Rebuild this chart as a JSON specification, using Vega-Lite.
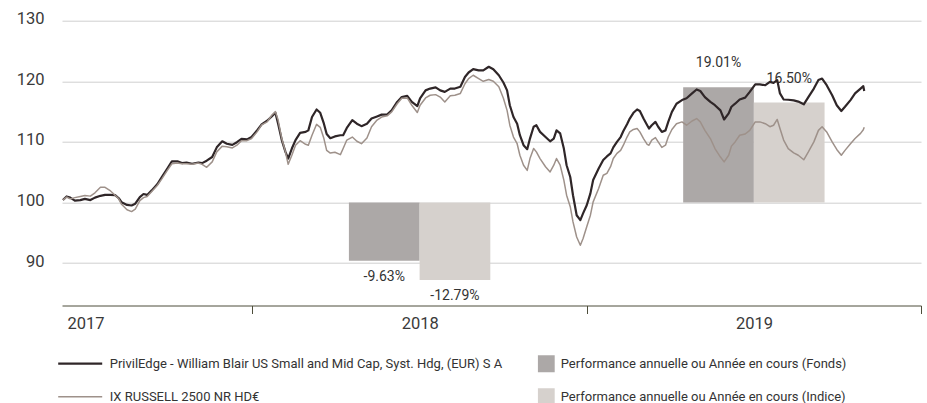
{
  "$schema": "https://vega.github.io/schema/vega-lite/v6.json",
  "width": 859,
  "height": 284.8,
  "autosize": {"type": "none"},
  "padding": {"left": 62, "top": 20.7, "right": 6, "bottom": 97.5},
  "background": "white",
  "config": {
    "view": {"stroke": null},
    "locale": {"number": {"decimal": ".", "thousands": ",", "grouping": [3], "currency": ["", ""], "minus": "-"}},
    "font": "Roboto, sans-serif",
    "axis": {"labelFont": "Roboto, sans-serif", "labelColor": "#3a3a3a", "title": null},
    "legend": {"labelFont": "Roboto, sans-serif", "labelColor": "#333333", "labelFontSize": 13, "labelLimit": 0, "title": null, "orient": "none", "padding": 0}
  },
  "datasets": {
    "perf": [
      {"year": "2018", "kind": "Fonds", "level": 90.37, "perf": -0.0963},
      {"year": "2018", "kind": "Indice", "level": 87.21, "perf": -0.1279},
      {"year": "2019", "kind": "Fonds", "level": 119.01, "perf": 0.1901},
      {"year": "2019", "kind": "Indice", "level": 116.5, "perf": 0.165}
    ],
    "nav": [
      {"date": "2017-06-08", "fund": 100.4, "index": 100.4},
      {"date": "2017-06-12", "fund": 101.0, "index": 100.9},
      {"date": "2017-06-16", "fund": 100.8, "index": 100.6},
      {"date": "2017-06-21", "fund": 100.3, "index": 100.8},
      {"date": "2017-06-27", "fund": 100.4, "index": 101.0},
      {"date": "2017-07-02", "fund": 100.6, "index": 101.15},
      {"date": "2017-07-08", "fund": 100.4, "index": 101.05},
      {"date": "2017-07-13", "fund": 100.8, "index": 101.6},
      {"date": "2017-07-19", "fund": 101.1, "index": 102.5},
      {"date": "2017-07-24", "fund": 101.25, "index": 102.5},
      {"date": "2017-07-30", "fund": 101.25, "index": 101.9},
      {"date": "2017-08-04", "fund": 101.2, "index": 101.2},
      {"date": "2017-08-08", "fund": 100.7, "index": 100.6},
      {"date": "2017-08-11", "fund": 100.05, "index": 99.7},
      {"date": "2017-08-17", "fund": 99.6, "index": 98.8},
      {"date": "2017-08-22", "fund": 99.5, "index": 98.5},
      {"date": "2017-08-26", "fund": 99.8, "index": 98.9},
      {"date": "2017-08-31", "fund": 100.9, "index": 100.3},
      {"date": "2017-09-04", "fund": 101.4, "index": 100.8},
      {"date": "2017-09-08", "fund": 101.25, "index": 101.0},
      {"date": "2017-09-13", "fund": 102.0, "index": 101.8},
      {"date": "2017-09-19", "fund": 103.0, "index": 102.8},
      {"date": "2017-09-24", "fund": 104.2, "index": 103.9},
      {"date": "2017-09-30", "fund": 105.6, "index": 105.3},
      {"date": "2017-10-05", "fund": 106.8, "index": 106.4},
      {"date": "2017-10-11", "fund": 106.8, "index": 106.5},
      {"date": "2017-10-16", "fund": 106.5, "index": 106.4},
      {"date": "2017-10-21", "fund": 106.6, "index": 106.4},
      {"date": "2017-10-27", "fund": 106.4, "index": 106.3},
      {"date": "2017-11-03", "fund": 106.6, "index": 106.5},
      {"date": "2017-11-07", "fund": 106.5, "index": 106.3},
      {"date": "2017-11-12", "fund": 106.9, "index": 105.8},
      {"date": "2017-11-18", "fund": 107.5, "index": 106.7},
      {"date": "2017-11-23", "fund": 109.1, "index": 108.35},
      {"date": "2017-11-29", "fund": 110.1, "index": 109.3},
      {"date": "2017-12-04", "fund": 109.7, "index": 109.2},
      {"date": "2017-12-10", "fund": 109.5, "index": 109.0},
      {"date": "2017-12-15", "fund": 109.95, "index": 109.45},
      {"date": "2017-12-20", "fund": 110.5, "index": 110.2},
      {"date": "2017-12-26", "fund": 110.4, "index": 110.2},
      {"date": "2017-12-31", "fund": 110.8, "index": 110.55},
      {"date": "2018-01-06", "fund": 111.9, "index": 111.65},
      {"date": "2018-01-11", "fund": 112.9, "index": 112.8},
      {"date": "2018-01-17", "fund": 113.5, "index": 113.3},
      {"date": "2018-01-22", "fund": 114.2, "index": 114.4},
      {"date": "2018-01-26", "fund": 114.8, "index": 115.0},
      {"date": "2018-01-29", "fund": 113.0, "index": 113.6},
      {"date": "2018-02-02", "fund": 110.3, "index": 110.55},
      {"date": "2018-02-06", "fund": 108.35, "index": 108.35},
      {"date": "2018-02-09", "fund": 107.25, "index": 106.3},
      {"date": "2018-02-13", "fund": 108.9, "index": 107.8},
      {"date": "2018-02-17", "fund": 110.3, "index": 109.45},
      {"date": "2018-02-22", "fund": 111.5, "index": 110.2},
      {"date": "2018-02-28", "fund": 111.65, "index": 109.6},
      {"date": "2018-03-03", "fund": 111.9, "index": 109.45},
      {"date": "2018-03-07", "fund": 114.1, "index": 111.1},
      {"date": "2018-03-12", "fund": 115.35, "index": 112.9},
      {"date": "2018-03-16", "fund": 114.8, "index": 112.4},
      {"date": "2018-03-20", "fund": 113.0, "index": 110.55},
      {"date": "2018-03-23", "fund": 111.3, "index": 108.6},
      {"date": "2018-03-27", "fund": 110.6, "index": 108.15},
      {"date": "2018-04-01", "fund": 110.9, "index": 108.3},
      {"date": "2018-04-07", "fund": 111.1, "index": 107.9},
      {"date": "2018-04-10", "fund": 111.1, "index": 108.9},
      {"date": "2018-04-14", "fund": 112.3, "index": 110.3},
      {"date": "2018-04-20", "fund": 113.6, "index": 110.8},
      {"date": "2018-04-25", "fund": 113.0, "index": 110.1},
      {"date": "2018-04-30", "fund": 112.6, "index": 109.7},
      {"date": "2018-05-06", "fund": 113.0, "index": 110.65},
      {"date": "2018-05-11", "fund": 113.85, "index": 112.5},
      {"date": "2018-05-17", "fund": 114.2, "index": 113.6},
      {"date": "2018-05-22", "fund": 114.5, "index": 114.1},
      {"date": "2018-05-28", "fund": 114.5, "index": 114.3},
      {"date": "2018-06-02", "fund": 115.2, "index": 114.95},
      {"date": "2018-06-08", "fund": 116.6, "index": 116.3},
      {"date": "2018-06-13", "fund": 117.4, "index": 117.2},
      {"date": "2018-06-19", "fund": 117.6, "index": 117.25},
      {"date": "2018-06-24", "fund": 116.6, "index": 116.05},
      {"date": "2018-06-30", "fund": 115.9, "index": 114.85},
      {"date": "2018-07-03", "fund": 117.2, "index": 116.05},
      {"date": "2018-07-09", "fund": 118.5, "index": 117.25},
      {"date": "2018-07-14", "fund": 118.8, "index": 117.7},
      {"date": "2018-07-20", "fund": 119.0, "index": 117.8},
      {"date": "2018-07-25", "fund": 118.5, "index": 117.4},
      {"date": "2018-07-30", "fund": 118.25, "index": 116.6},
      {"date": "2018-08-05", "fund": 118.8, "index": 117.6},
      {"date": "2018-08-10", "fund": 118.8, "index": 117.7},
      {"date": "2018-08-16", "fund": 119.1, "index": 118.0},
      {"date": "2018-08-21", "fund": 120.7, "index": 119.6},
      {"date": "2018-08-25", "fund": 121.45, "index": 120.45},
      {"date": "2018-08-30", "fund": 122.0, "index": 121.0},
      {"date": "2018-09-05", "fund": 121.8, "index": 120.45},
      {"date": "2018-09-10", "fund": 121.8, "index": 120.0},
      {"date": "2018-09-16", "fund": 122.4, "index": 120.3},
      {"date": "2018-09-21", "fund": 122.0, "index": 120.0},
      {"date": "2018-09-27", "fund": 121.0, "index": 119.1},
      {"date": "2018-10-02", "fund": 119.8, "index": 117.2},
      {"date": "2018-10-06", "fund": 118.5, "index": 115.2},
      {"date": "2018-10-09", "fund": 116.05, "index": 112.75},
      {"date": "2018-10-13", "fund": 114.1, "index": 110.8},
      {"date": "2018-10-17", "fund": 113.0, "index": 109.7},
      {"date": "2018-10-20", "fund": 111.1, "index": 107.8},
      {"date": "2018-10-24", "fund": 109.45, "index": 106.15},
      {"date": "2018-10-28", "fund": 108.8, "index": 105.3},
      {"date": "2018-10-31", "fund": 110.55, "index": 107.25},
      {"date": "2018-11-04", "fund": 112.5, "index": 108.9},
      {"date": "2018-11-07", "fund": 112.75, "index": 108.35},
      {"date": "2018-11-11", "fund": 111.65, "index": 107.25},
      {"date": "2018-11-17", "fund": 110.8, "index": 105.9},
      {"date": "2018-11-22", "fund": 110.1, "index": 105.05},
      {"date": "2018-11-26", "fund": 110.55, "index": 106.15},
      {"date": "2018-11-29", "fund": 111.9, "index": 107.25},
      {"date": "2018-12-03", "fund": 111.4, "index": 106.15},
      {"date": "2018-12-07", "fund": 108.9, "index": 103.7},
      {"date": "2018-12-10", "fund": 106.15, "index": 101.2},
      {"date": "2018-12-14", "fund": 104.2, "index": 99.3},
      {"date": "2018-12-17", "fund": 101.2, "index": 96.8},
      {"date": "2018-12-21", "fund": 97.9, "index": 94.3},
      {"date": "2018-12-25", "fund": 97.1, "index": 92.95},
      {"date": "2018-12-28", "fund": 98.2, "index": 94.05},
      {"date": "2019-01-01", "fund": 99.55, "index": 96.0},
      {"date": "2019-01-05", "fund": 101.5, "index": 97.9},
      {"date": "2019-01-08", "fund": 103.7, "index": 100.1},
      {"date": "2019-01-14", "fund": 105.6, "index": 102.3},
      {"date": "2019-01-19", "fund": 107.0, "index": 104.5},
      {"date": "2019-01-23", "fund": 107.6, "index": 104.8},
      {"date": "2019-01-27", "fund": 108.1, "index": 105.9},
      {"date": "2019-01-30", "fund": 109.1, "index": 107.25},
      {"date": "2019-02-03", "fund": 110.0, "index": 108.1},
      {"date": "2019-02-07", "fund": 110.8, "index": 108.6},
      {"date": "2019-02-10", "fund": 111.8, "index": 109.45},
      {"date": "2019-02-14", "fund": 112.9, "index": 110.8},
      {"date": "2019-02-17", "fund": 113.85, "index": 111.65},
      {"date": "2019-02-21", "fund": 114.8, "index": 112.05},
      {"date": "2019-02-25", "fund": 115.35, "index": 112.2},
      {"date": "2019-02-28", "fund": 115.1, "index": 111.65},
      {"date": "2019-03-04", "fund": 113.85, "index": 110.55},
      {"date": "2019-03-08", "fund": 112.75, "index": 109.6},
      {"date": "2019-03-10", "fund": 112.2, "index": 109.45},
      {"date": "2019-03-13", "fund": 112.75, "index": 110.3},
      {"date": "2019-03-17", "fund": 113.3, "index": 110.7},
      {"date": "2019-03-20", "fund": 112.5, "index": 110.0},
      {"date": "2019-03-24", "fund": 111.65, "index": 109.1},
      {"date": "2019-03-28", "fund": 111.9, "index": 109.45},
      {"date": "2019-03-31", "fund": 113.3, "index": 110.8},
      {"date": "2019-04-04", "fund": 114.95, "index": 112.05},
      {"date": "2019-04-09", "fund": 116.3, "index": 113.0},
      {"date": "2019-04-15", "fund": 116.9, "index": 113.3},
      {"date": "2019-04-20", "fund": 117.2, "index": 112.75},
      {"date": "2019-04-26", "fund": 118.0, "index": 113.45},
      {"date": "2019-05-01", "fund": 118.65, "index": 113.85},
      {"date": "2019-05-05", "fund": 118.4, "index": 113.3},
      {"date": "2019-05-10", "fund": 117.4, "index": 111.9},
      {"date": "2019-05-16", "fund": 116.6, "index": 110.55},
      {"date": "2019-05-21", "fund": 116.05, "index": 108.9},
      {"date": "2019-05-27", "fund": 115.2, "index": 107.5},
      {"date": "2019-05-31", "fund": 113.7, "index": 106.7},
      {"date": "2019-06-05", "fund": 114.7, "index": 107.8},
      {"date": "2019-06-08", "fund": 115.8, "index": 109.3},
      {"date": "2019-06-12", "fund": 116.3, "index": 110.0},
      {"date": "2019-06-17", "fund": 117.0, "index": 111.1},
      {"date": "2019-06-23", "fund": 117.3, "index": 111.3},
      {"date": "2019-06-28", "fund": 118.25, "index": 111.9},
      {"date": "2019-07-04", "fund": 119.5, "index": 113.3},
      {"date": "2019-07-09", "fund": 119.5, "index": 113.3},
      {"date": "2019-07-15", "fund": 119.35, "index": 113.0},
      {"date": "2019-07-20", "fund": 119.9, "index": 112.5},
      {"date": "2019-07-24", "fund": 119.75, "index": 112.75},
      {"date": "2019-07-28", "fund": 120.2, "index": 113.7},
      {"date": "2019-07-31", "fund": 118.0, "index": 112.2},
      {"date": "2019-08-04", "fund": 117.0, "index": 110.3},
      {"date": "2019-08-09", "fund": 116.95, "index": 108.9},
      {"date": "2019-08-15", "fund": 116.85, "index": 108.2},
      {"date": "2019-08-20", "fund": 116.65, "index": 107.8},
      {"date": "2019-08-26", "fund": 116.2, "index": 107.05},
      {"date": "2019-08-31", "fund": 117.4, "index": 108.35},
      {"date": "2019-09-06", "fund": 118.8, "index": 110.0},
      {"date": "2019-09-11", "fund": 120.2, "index": 111.9},
      {"date": "2019-09-15", "fund": 120.45, "index": 112.5},
      {"date": "2019-09-20", "fund": 119.35, "index": 111.65},
      {"date": "2019-09-26", "fund": 117.7, "index": 110.0},
      {"date": "2019-10-01", "fund": 116.05, "index": 108.75},
      {"date": "2019-10-06", "fund": 115.1, "index": 107.8},
      {"date": "2019-10-10", "fund": 115.8, "index": 108.6},
      {"date": "2019-10-16", "fund": 116.9, "index": 109.7},
      {"date": "2019-10-21", "fund": 118.0, "index": 110.55},
      {"date": "2019-10-27", "fund": 118.8, "index": 111.4},
      {"date": "2019-10-30", "fund": 119.2, "index": 112.0},
      {"date": "2019-10-31", "fund": 118.4, "index": 112.4}
    ]
  },
  "layer": [
    {
      "data": {"name": "perf"},
      "transform": [{"filter": "datum.kind == 'Fonds'"}],
      "mark": {"type": "bar", "width": 70.7, "xOffset": -35.35},
      "encoding": {
        "x": {
          "field": "year", "type": "temporal", "timeUnit": "utcyear", "bandPosition": 0.5,
          "scale": {"type": "utc", "domain": [{"year": 2017, "month": 6, "date": 7, "utc": true}, {"year": 2020, "month": 1, "date": 1, "utc": true}]},
          "axis": {
            "values": [{"year": 2018, "month": 1, "date": 1, "utc": true}, {"year": 2019, "month": 1, "date": 1, "utc": true}, {"year": 2020, "month": 1, "date": 1, "utc": true}],
            "labelExpr": "utcFormat(datum.value - 86400000, '%Y')",
            "labelOffset": -167, "labelFlush": false, "labelOverlap": false, "labelBound": false,
            "labelFontSize": 16.5, "labelPadding": 2, "labelBaseline": "top",
            "tickSize": 8, "tickColor": "#4d4d3a", "domainColor": "#4d4d3a", "domainWidth": 1, "tickWidth": 1,
            "grid": false, "title": null
          }
        },
        "y": {
          "field": "level", "type": "quantitative",
          "scale": {"domain": [83, 130], "nice": false, "zero": false},
          "axis": {
            "values": [90, 100, 110, 120, 130], "domain": false, "ticks": false, "tickSize": 0,
            "labelPadding": 18, "labelFontSize": 16.5, "labelOffset": -2,
            "grid": true, "gridColor": "#cfcfcf", "gridWidth": 1, "title": null
          }
        },
        "y2": {"datum": 100},
        "fill": {
          "field": "kind", "type": "nominal",
          "scale": {"domain": ["Fonds", "Indice"], "range": ["#aca8a7", "#d6d1cd"]},
          "legend": {
            "symbolType": "square", "symbolSize": 289, "symbolStrokeWidth": 0,
            "clipHeight": 20, "rowPadding": 13, "labelOffset": 6,
            "legendX": 475.7, "legendY": 333,
            "labelExpr": "datum.label == 'Fonds' ? 'Performance annuelle ou Année en cours (Fonds)' : 'Performance annuelle ou Année en cours (Indice)'"
          }
        }
      }
    },
    {
      "data": {"name": "perf"},
      "transform": [{"filter": "datum.kind == 'Indice'"}],
      "mark": {"type": "bar", "width": 70.7, "xOffset": 35.35},
      "encoding": {
        "x": {"field": "year", "type": "temporal", "timeUnit": "utcyear", "bandPosition": 0.5},
        "y": {"field": "level", "type": "quantitative"},
        "y2": {"datum": 100},
        "fill": {"field": "kind", "type": "nominal"}
      }
    },
    {
      "data": {"name": "perf"},
      "mark": {
        "type": "text", "fontSize": 14, "font": "Roboto, sans-serif", "color": "#333333", "baseline": "middle", "align": "center",
        "dx": {"expr": "datum.kind == 'Fonds' ? -35.35 : 35.35"},
        "dy": {"expr": "datum.perf < 0 ? 16 : -24"}
      },
      "encoding": {
        "x": {"field": "year", "type": "temporal", "timeUnit": "utcyear", "bandPosition": 0.5},
        "y": {"field": "level", "type": "quantitative"},
        "text": {"field": "perf", "type": "quantitative", "format": ".2%"}
      }
    },
    {
      "data": {"name": "nav"},
      "transform": [{"fold": ["fund", "index"], "as": ["series", "value"]}],
      "mark": {"type": "line", "strokeJoin": "round", "strokeCap": "butt"},
      "encoding": {
        "x": {"field": "date", "type": "temporal"},
        "y": {"field": "value", "type": "quantitative"},
        "stroke": {
          "field": "series", "type": "nominal",
          "scale": {"domain": ["fund", "index"], "range": ["#2f2628", "#9e918a"]},
          "legend": {
            "symbolType": "stroke", "symbolSize": 1936, "clipHeight": 20, "rowPadding": 13, "labelOffset": 6,
            "legendX": -5.3, "legendY": 333,
            "labelExpr": "datum.label == 'fund' ? 'PrivilEdge - William Blair US Small and Mid Cap, Syst. Hdg, (EUR) S A' : 'IX RUSSELL 2500 NR HD€'"
          }
        },
        "strokeWidth": {
          "field": "series", "type": "nominal",
          "scale": {"domain": ["fund", "index"], "range": [2.2, 1.5]},
          "legend": null
        }
      }
    }
  ]
}
